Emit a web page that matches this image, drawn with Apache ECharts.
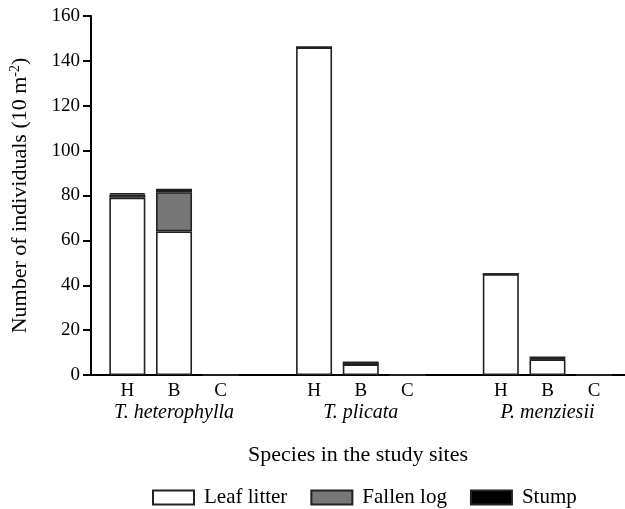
<!DOCTYPE html>
<html><head><meta charset="utf-8">
<script src="https://cdn.jsdelivr.net/npm/echarts@6/dist/echarts.min.js"></script>
<style>html,body{margin:0;padding:0;background:#fff}#c{width:625px;height:509px}</style>
</head><body><div id="c"></div>
<script>
var sites = ['H','B','C','','H','B','C','','H','B','C'];
var species = ['','T. heterophylla','','','','T. plicata','','','','P. menziesii',''];
var leafLitter = [79, 64, 0, '-', 146, 4.7, 0, '-', 45, 7, 0];
var fallenLog  = [1.5, 17.5, 0, '-', 0, 0, 0, '-', 0, 0.4, 0];
var stump      = [0.5, 1.5, 0, '-', 0, 1.3, 0, '-', 0, 0.8, 0];
var yTicks = [0, 20, 40, 60, 80, 100, 120, 140, 160];

var font = '"Liberation Serif", "Times New Roman", "DejaVu Serif", serif';
var chart = echarts.init(document.getElementById('c'));
var border = {borderColor:'#222', borderWidth:1.6};
function s(name, data, color){
  return {name:name, type:'bar', stack:'a', data:data, barWidth:36,
    xAxisIndex:0, yAxisIndex:0, itemStyle:Object.assign({color:color}, border), animation:false};
}
chart.setOption({
  animation:false,
  backgroundColor:'#fff',
  textStyle:{fontFamily:font},
  grid:[
    {left:104, right:7.5, top:16, bottom:134},
    {left:91, right:0, top:16, bottom:134}
  ],
  legend:{
    left:152, top:487, padding:0, itemWidth:41, itemHeight:14, itemGap:23,
    icon:'rect',
    textStyle:{fontFamily:font, fontSize:21, color:'#000', padding:[0,0,0,5]},
    data:['Leaf litter','Fallen log','Stump']
  },
  xAxis:[
    {type:'category', gridIndex:0, data:sites, axisLine:{show:false}, axisTick:{show:false},
     axisLabel:{fontFamily:font, fontSize:19, color:'#000', margin:7, interval:0}},
    {type:'category', gridIndex:0, data:species, position:'bottom', axisLine:{show:false}, axisTick:{show:false},
     axisLabel:{fontFamily:font, fontSize:20, fontStyle:'italic', color:'#000', margin:28, interval:0}},
    {type:'value', gridIndex:1, min:0, max:1, axisLine:{lineStyle:{color:'#000', width:2}}, axisTick:{show:false},
     axisLabel:{show:false}, splitLine:{show:false},
     name:'Species in the study sites', nameLocation:'middle', nameGap:69,
     nameTextStyle:{fontFamily:font, fontSize:22, color:'#000'}}
  ],
  yAxis:[
    {type:'value', gridIndex:0, min:0, max:160, interval:20, show:false},
    {type:'value', gridIndex:1, min:0, max:160, interval:20,
     axisLine:{show:true, lineStyle:{color:'#000', width:2}},
     axisTick:{show:true, inside:false, length:8, lineStyle:{color:'#000', width:2}},
     splitLine:{show:false},
     axisLabel:{fontFamily:font, fontSize:19, color:'#000', margin:11,
       formatter:function(v){return yTicks.indexOf(v)>=0? String(v):'';}},
     name:'{n|Number of individuals (10 m}{sup|-2}{n|)}', nameLocation:'middle', nameGap:59,
     nameTextStyle:{rich:{n:{fontFamily:font, fontSize:22, color:'#000', lineHeight:24},
                          sup:{fontFamily:font, fontSize:14, color:'#000', verticalAlign:'top', lineHeight:24}}}}
  ],
  series:[
    s('Leaf litter', leafLitter, '#ffffff'),
    s('Fallen log', fallenLog, '#777777'),
    s('Stump', stump, '#000000')
  ]
});
</script></body></html>
